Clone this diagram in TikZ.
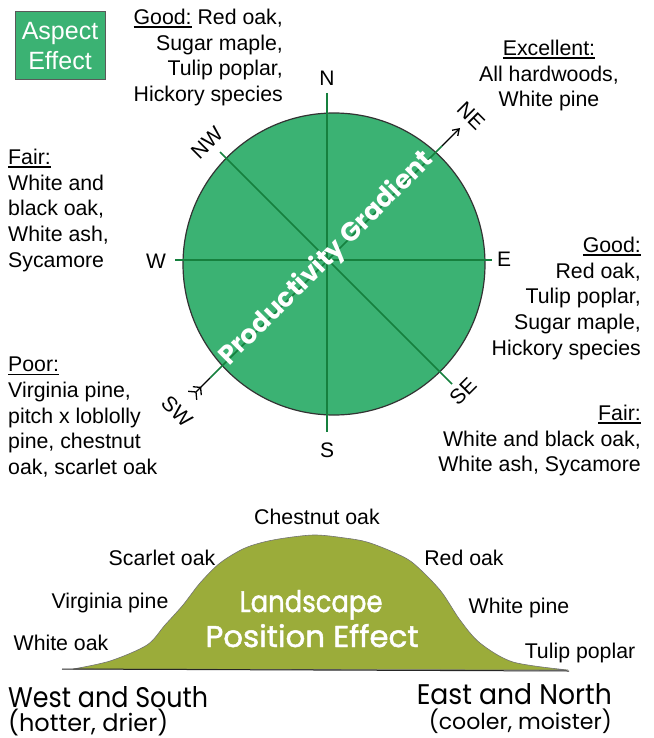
\documentclass[tikz,border=0pt]{standalone}
\usepackage{graphicx}
\usepackage{fontspec}
\setmainfont{Liberation Sans}
\newfontfamily\comicf{Poppins}
\newfontfamily\comicmid[FakeBold=1.6]{Poppins}
\usetikzlibrary{arrows.meta}
\definecolor{circgreen}{RGB}{59,178,115}
\definecolor{linegreen}{RGB}{22,128,62}
\definecolor{hillgreen}{RGB}{155,172,58}
\newsavebox\ulbox
\newcommand{\ulab}[1]{\sbox\ulbox{#1}\rlap{\rule[-3pt]{\wd\ulbox}{1.2pt}}\usebox\ulbox}
\begin{document}
\begin{tikzpicture}[x=1pt,y=-1pt,
  lab/.style={font=\fontsize{21.3}{25.6}\selectfont, inner sep=0pt},
  cmp/.style={font=\fontsize{21}{25}\selectfont, inner sep=0pt},
  cline/.style={linegreen, line width=1.6pt},
  tipline/.style={black, line width=1.3pt},
  comic/.style={font=\comicf, inner sep=0pt}]
\useasboundingbox (0,0) rectangle (653,738);

% Aspect Effect box
\node[draw=black!65, line width=1pt, fill=circgreen, minimum width=90pt, minimum height=68pt,
      text=white, align=center, inner sep=0pt, font=\fontsize{25}{29.5}\selectfont] (aspect) at (60,46) {Aspect\\Effect};

% compass
\node[circle, minimum size=302pt, inner sep=0pt, fill=circgreen, draw=black!80, line width=1.2pt] (rose) at (334,264) {};
\coordinate (nT) at (327,93);  \coordinate (sB) at (327,432);
\coordinate (wL) at (175,260); \coordinate (eR) at (492,260);
\coordinate (nwE) at (220,152); \coordinate (seE) at (452,384);
\coordinate (swG) at (210,378); \coordinate (neG) at (442,146);
\coordinate (swT) at (192,396); \coordinate (neT) at (460,128);
\draw[cline] (nT) -- (sB);
\draw[cline] (wL) -- (eR);
\draw[cline] (nwE) -- (seE);
\draw[cline] (swG) -- (neG);
\draw[tipline, -{Straight Barb[length=6pt,width=8pt]}] (neG) -- (neT);
\draw[tipline, {Straight Barb[reversed,length=5pt,width=12pt] Straight Barb[reversed,length=5pt,width=12pt]}-] (swT) -- (swG);

\node[comic, text=white, rotate=45] (prod) at (327,259) {\resizebox{290pt}{21pt}{\bfseries Productivity Gradient}};

\node[cmp] (lN) at (327,78) {N};
\node[cmp] (lS) at (327,450) {S};
\node[cmp] (lW) at (156,261) {W};
\node[cmp] (lE) at (504,259) {E};
\node[cmp, rotate=45] (lNW) at (207,143) {NW};
\node[cmp, rotate=-45] (lNE) at (471,116) {NE};
\node[cmp, rotate=45] (lSE) at (463,391) {SE};
\node[cmp, rotate=-45] (lSW) at (177,411) {SW};

% species blocks
\node[lab, align=right, anchor=north east] (goodN) at (283,9)
  {\ulab{Good:} Red oak,\\Sugar maple,\\Tulip poplar,\\Hickory species};
\node[lab, align=center, anchor=north] (excNE) at (549,40)
  {\ulab{Excellent:}\\All hardwoods,\\White pine};
\node[lab, align=left, anchor=north west] (fairW) at (8,149)
  {\ulab{Fair:}\\White and\\black oak,\\White ash,\\Sycamore};
\node[lab, align=right, anchor=north east] (goodE) at (641,237)
  {\ulab{Good:}\\Red oak,\\Tulip poplar,\\Sugar maple,\\Hickory species};
\node[lab, align=left, anchor=north west] (poorSW) at (8,357)
  {\ulab{Poor:}\\Virginia pine,\\pitch x loblolly\\pine, chestnut\\oak, scarlet oak};
\node[lab, align=right, anchor=north east] (fairSE) at (641,405)
  {\ulab{Fair:}\\White and black oak,\\White ash, Sycamore};

% hill
\fill[hillgreen, draw=black!55, line width=0.6pt] plot[smooth, tension=0.5] coordinates
  {(73,669) (110,661) (147,645) (165,625) (183,605) (200,583) (220,563) (245,548) (273,540) (313,535)
   (345,538) (367,542) (393,552) (413,563) (440,590) (460,620) (480,643) (513,662) (568,670)} -- cycle;
\coordinate (bL) at (62,669); \coordinate (bR) at (569,671);
\draw[black!85, line width=1pt] (bL) -- (bR);

\node[lab, anchor=base] (h1) at (317,524) {Chestnut oak};
\node[lab, anchor=base] (h2) at (162,565) {Scarlet oak};
\node[lab, anchor=base] (h3) at (110,608) {Virginia pine};
\node[lab, anchor=base] (h4) at (61,650) {White oak};
\node[lab, anchor=base] (h5) at (464,565) {Red oak};
\node[lab, anchor=base] (h6) at (519,613) {White pine};
\node[lab, anchor=base] (h7) at (580,658) {Tulip poplar};

\node[inner sep=0pt, font=\comicmid, text=white, anchor=base] (ls1) at (311,612) {\resizebox{143pt}{22pt}{Landscape}};
\node[inner sep=0pt, font=\comicmid, text=white, anchor=base] (ls2) at (312,647) {\resizebox{213pt}{23pt}{Position Effect}};

\node[comic, anchor=base west] (ws1) at (8,707) {\resizebox{200pt}{21pt}{West and South}};
\node[comic, anchor=base west] (ws2) at (8,731) {\resizebox{160pt}{!}{(hotter, drier)}};
\node[comic, anchor=base east] (en1) at (612,704) {\resizebox{195pt}{21pt}{East and North}};
\node[comic, anchor=base east] (en2) at (612,729) {\resizebox{183pt}{!}{(cooler, moister)}};
\end{tikzpicture}
\end{document}
